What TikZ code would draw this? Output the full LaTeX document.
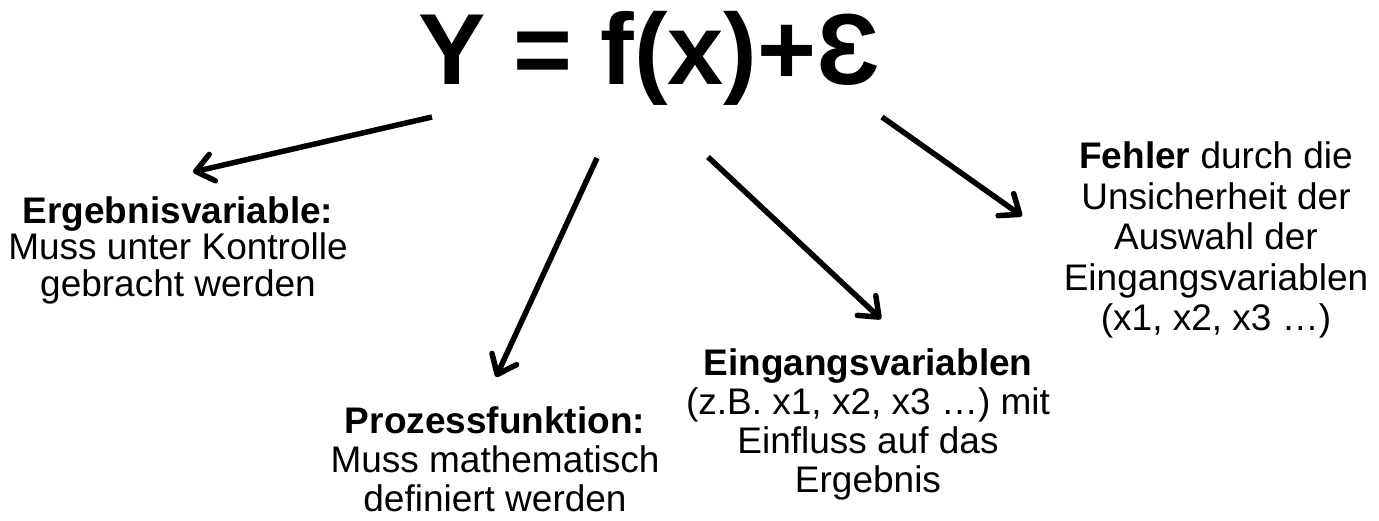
\documentclass[tikz,border=0pt]{standalone}
\usepackage{fontspec}
\setmainfont{Liberation Sans}
\usetikzlibrary{arrows.meta}
\begin{document}
\begin{tikzpicture}[x=1pt,y=-1pt,
  txt/.style={align=center,inner sep=0pt,font=\fontsize{37}{39}\selectfont},
  arr/.style={line width=5.5pt,-{Straight Barb[length=17pt,width=27pt,line cap=round,line join=round]}}]
\useasboundingbox (0,0) rectangle (1379,520);
\node[anchor=base,inner sep=0pt,font=\fontsize{101}{110}\selectfont\bfseries] (title) at (649,84) {Y = f(x)+Ɛ};
\node[txt,font=\fontsize{37}{36.5}\selectfont] (erg) at (178,250) {\textbf{Ergebnisvariable:}\\Muss unter Kontrolle\\gebracht werden};
\node[txt] (proz) at (495,459) {\textbf{Prozessfunktion:}\\Muss mathematisch\\definiert werden};
\node[txt] (ein) at (868,424) {\textbf{Eingangsvariablen}\\(z.B. x1, x2, x3 …) mit\\Einfluss auf das\\Ergebnis};
\node[txt,font=\fontsize{37}{40.5}\selectfont] (feh) at (1216,240) {\textbf{Fehler} durch die\\Unsicherheit der\\Auswahl der\\Eingangsvariablen\\(x1, x2, x3 …)};
\coordinate (s1) at (432,117);
\coordinate (e1) at (193,172);
\coordinate (s2) at (597,158);
\coordinate (e2) at (496,377);
\coordinate (s3) at (708,157);
\coordinate (e3) at (881,319);
\coordinate (s4) at (882,117);
\coordinate (e4) at (1022,216);
\draw[arr] (s1) -- (e1);
\draw[arr] (s2) -- (e2);
\draw[arr] (s3) -- (e3);
\draw[arr] (s4) -- (e4);
\end{tikzpicture}
\end{document}
